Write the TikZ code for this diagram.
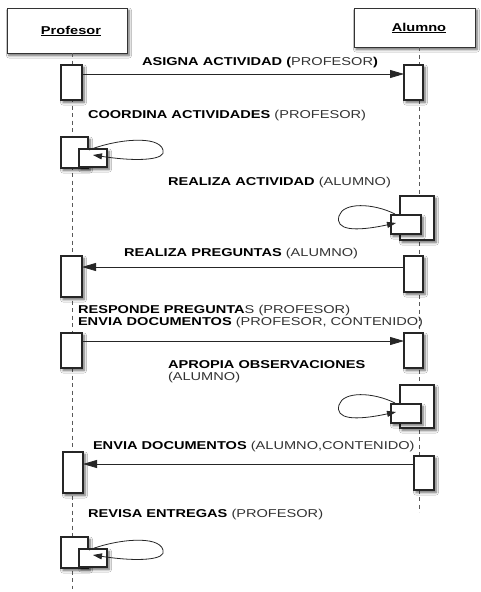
\documentclass[tikz,border=0pt]{standalone}
\usepackage{fontspec}
\setmainfont{Liberation Sans}
\usetikzlibrary{arrows.meta,shadows.blur}

% wide label text: bold part, then regular part
\newcommand{\wide}[1]{\scalebox{1.28}[1]{#1}}
\newcommand{\rg}[1]{\textcolor{black!80}{#1}}

\begin{document}
\begin{tikzpicture}[x=1pt,y=-1pt,
  every node/.style={inner sep=0pt,outer sep=0pt},
  boxshadow/.style={blur shadow={shadow xshift=2pt,shadow yshift=-2.5pt,shadow blur steps=6,shadow blur radius=2.5pt,shadow opacity=60}},
  actbox/.style={draw=black!85,line width=1.1pt,fill=white,rectangle,anchor=north west,boxshadow},
  headbox/.style={draw=black!80,line width=0.9pt,fill=white,rectangle,anchor=north west,boxshadow},
  lifeline/.style={draw=black!65,line width=0.9pt,dash pattern=on 4pt off 3.5pt},
  msg/.style={draw=black!85,line width=0.8pt,-{Triangle[length=14pt,width=8pt]}},
  selfmsg/.style={draw=black!85,line width=0.8pt,-{Triangle[length=9pt,width=6pt]}},
  txt/.style={anchor=west,font=\fontsize{11.4}{13}\selectfont}
]
\useasboundingbox[fill=white] (0,0) rectangle (481,592);

% participants
\node[headbox,minimum width=120pt,minimum height=45pt] (prof) at (7,8) {};
\node[headbox,minimum width=121pt,minimum height=39pt] (alum) at (354,8) {};
\node[font=\fontsize{11.4}{13}\selectfont] (proft) at (71,31) {\wide{\textbf{\underline{Profesor}}}};
\node[font=\fontsize{11.4}{13}\selectfont] (alumt) at (419,28) {\wide{\textbf{\underline{Alumno}}}};

% lifelines
\coordinate (profend) at (72,589);
\coordinate (alumend) at (419,512);
\draw[lifeline] (prof.south -| profend) -- (profend);
\draw[lifeline] (alum.south -| alumend) -- (alumend);

% activations
\node[actbox,minimum width=21pt,minimum height=35pt] (p1) at (61,65) {};
\node[actbox,minimum width=19pt,minimum height=35pt] (a1) at (404,65) {};

\node[actbox,minimum width=27pt,minimum height=31pt] (pb2) at (61,137) {};
\node[actbox,minimum width=28pt,minimum height=18pt] (ps2) at (79,149) {};

\node[actbox,minimum width=34pt,minimum height=44pt] (ab3) at (400,196) {};
\node[actbox,minimum width=30pt,minimum height=19pt] (as3) at (391,215) {};

\node[actbox,minimum width=21pt,minimum height=41pt] (p4) at (61,256) {};
\node[actbox,minimum width=19pt,minimum height=36pt] (a4) at (404,256) {};

\node[actbox,minimum width=21pt,minimum height=35pt] (p5) at (61,333) {};
\node[actbox,minimum width=19pt,minimum height=35pt] (a5) at (404,333) {};

\node[actbox,minimum width=34pt,minimum height=43pt] (ab6) at (400,385) {};
\node[actbox,minimum width=30pt,minimum height=19pt] (as6) at (391,404) {};

\node[actbox,minimum width=20pt,minimum height=41pt] (p7) at (63,452) {};
\node[actbox,minimum width=20pt,minimum height=34pt] (a7) at (414,456) {};

\node[actbox,minimum width=27pt,minimum height=31pt] (pb8) at (61,537) {};
\node[actbox,minimum width=28pt,minimum height=18pt] (ps8) at (79,549) {};

% messages
\draw[msg] ([yshift=-9pt]p1.north east) -- ([yshift=-9pt]p1.north east -| a1.west);
\draw[msg] ([yshift=-11pt]a4.north west) -- ([yshift=-11pt]a4.north west -| p4.east);
\draw[msg] ([yshift=-8pt]p5.north east) -- ([yshift=-8pt]p5.north east -| a5.west);
\draw[msg] ([yshift=-8pt]a7.north west) -- ([yshift=-8pt]a7.north west -| p7.east);

% self messages
\draw[selfmsg] ([shift={(10,1)}]ps2.north west) .. controls +(28,-11) and +(-4,-15) .. ([shift={(84,1)}]ps2.north west)
  .. controls +(4,10) and +(45,7) .. ([shift={(14,6)}]ps2.north west);
\draw[selfmsg] ([shift={(10,1)}]ps8.north west) .. controls +(28,-11) and +(-4,-15) .. ([shift={(84,1)}]ps8.north west)
  .. controls +(4,10) and +(45,7) .. ([shift={(14,6)}]ps8.north west);
\draw[selfmsg] ([shift={(4,-1)}]as3.north west) .. controls +(-22,-11) and +(4,-14) .. ([shift={(-52,1)}]as3.north west)
  .. controls +(-4,14) and +(-42,9) .. ([shift={(5,8)}]as3.north west);
\draw[selfmsg] ([shift={(4,-1)}]as6.north west) .. controls +(-22,-11) and +(4,-14) .. ([shift={(-52,1)}]as6.north west)
  .. controls +(-4,14) and +(-42,9) .. ([shift={(5,8)}]as6.north west);

% labels
\node[txt] (l1) at (142,63) {\wide{\textbf{ASIGNA ACTIVIDAD (}\rg{PROFESOR}\textbf{)}}};
\node[txt] (l2) at (88,116) {\wide{\textbf{COORDINA ACTIVIDADES} \rg{(PROFESOR)}}};
\node[txt] (l3) at (168,183) {\wide{\textbf{REALIZA ACTIVIDAD} \rg{(ALUMNO)}}};
\node[txt] (l4) at (124,254) {\wide{\textbf{REALIZA PREGUNTAS} \rg{(ALUMNO)}}};
\node[txt] (l5) at (78,311) {\wide{\textbf{RESPONDE PREGUNTA}\rg{S (PROFESOR)}}};
\node[txt] (l6) at (78,323) {\wide{\textbf{ENVIA DOCUMENTOS} \rg{(PROFESOR, CONTENIDO)}}};
\node[txt] (l7) at (168,365) {\wide{\textbf{APROPIA OBSERVACIONES}}};
\node[txt] (l8) at (168,378) {\wide{\rg{(ALUMNO)}}};
\node[txt] (l9) at (93,447) {\wide{\textbf{ENVIA DOCUMENTOS} \rg{(ALUMNO,CONTENIDO)}}};
\node[txt] (l10) at (88,515) {\wide{\textbf{REVISA ENTREGAS} \rg{(PROFESOR)}}};
\end{tikzpicture}
\end{document}
